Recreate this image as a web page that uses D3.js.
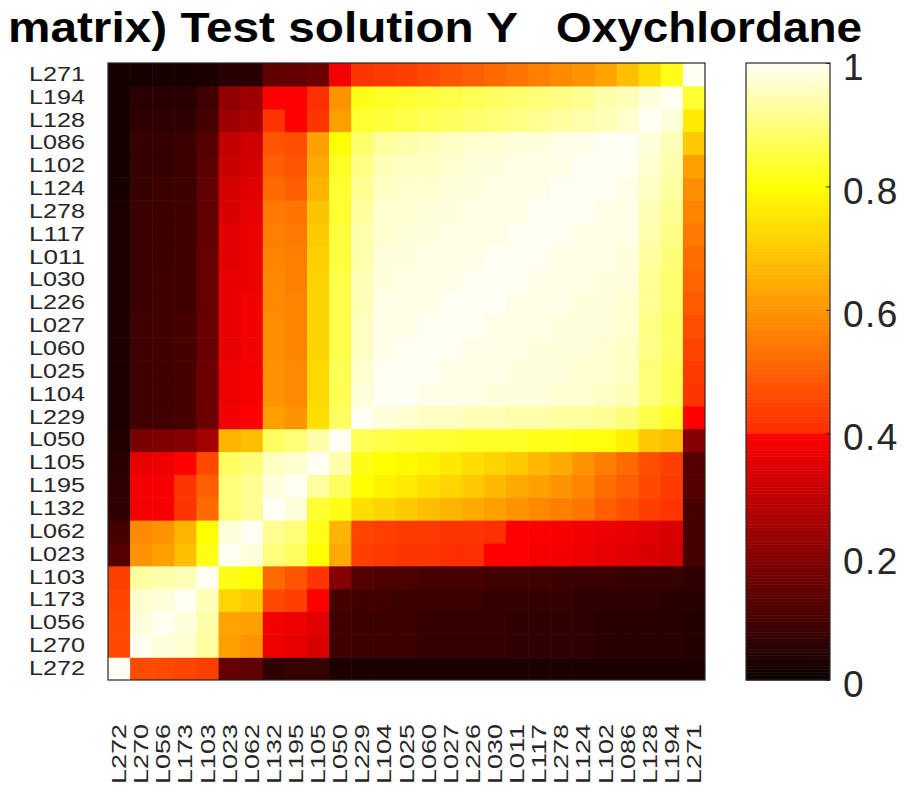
<!DOCTYPE html>
<html>
<head>
<meta charset="utf-8">
<script src="https://cdn.jsdelivr.net/npm/d3@7/dist/d3.min.js"></script>
<style>
  html, body { margin: 0; padding: 0; background: #ffffff; }
  svg { display: block; font-family: "Liberation Sans", Arial, Helvetica, sans-serif; }
</style>
</head>
<body>
<svg id="chart" width="913" height="802"></svg>
<script>
// ---------------- DATA ----------------
const titleLeft = "matrix) Test solution Y";
const titleRight = "Oxychlordane";

// category order along x (left -> right); y uses the same order bottom -> top
const categories = ["L272","L270","L056","L173","L103","L023","L062","L132","L195","L105","L050",
  "L229","L104","L025","L060","L027","L226","L030","L011","L117","L278","L124","L102","L086","L128","L194","L271"];

// values[r][c]: row r (category r, counted from bottom), column c (category c, from left)
const values = [
/* L272 */ [1.00,0.46,0.46,0.45,0.44,0.15,0.14,0.06,0.07,0.07,0.03,0.03,0.03,0.03,0.03,0.03,0.03,0.03,0.03,0.03,0.03,0.03,0.03,0.03,0.03,0.03,0.03],
/* L270 */ [0.46,1.00,0.98,0.97,0.93,0.62,0.60,0.37,0.36,0.34,0.09,0.08,0.08,0.08,0.07,0.07,0.07,0.07,0.06,0.06,0.06,0.06,0.05,0.05,0.05,0.05,0.04],
/* L056 */ [0.46,0.98,1.00,0.98,0.94,0.63,0.62,0.38,0.37,0.35,0.09,0.08,0.08,0.08,0.07,0.07,0.07,0.07,0.06,0.06,0.06,0.06,0.05,0.05,0.05,0.05,0.04],
/* L173 */ [0.45,0.97,0.98,1.00,0.95,0.72,0.70,0.46,0.44,0.40,0.10,0.09,0.09,0.08,0.08,0.08,0.08,0.07,0.07,0.07,0.07,0.06,0.06,0.06,0.06,0.05,0.05],
/* L103 */ [0.44,0.93,0.94,0.95,1.00,0.82,0.80,0.52,0.48,0.42,0.20,0.12,0.11,0.11,0.10,0.10,0.10,0.09,0.09,0.09,0.08,0.08,0.08,0.07,0.07,0.07,0.06],
/* L023 */ [0.12,0.60,0.62,0.68,0.82,1.00,0.98,0.90,0.88,0.80,0.64,0.44,0.43,0.42,0.42,0.41,0.41,0.40,0.40,0.39,0.38,0.37,0.36,0.35,0.34,0.33,0.10],
/* L062 */ [0.10,0.58,0.60,0.66,0.80,0.98,1.00,0.92,0.90,0.82,0.66,0.45,0.44,0.43,0.43,0.42,0.42,0.41,0.40,0.40,0.39,0.38,0.37,0.36,0.35,0.34,0.10],
/* L132 */ [0.06,0.38,0.39,0.42,0.52,0.90,0.92,1.00,0.98,0.84,0.82,0.74,0.72,0.70,0.68,0.66,0.64,0.62,0.60,0.58,0.56,0.54,0.50,0.47,0.44,0.42,0.10],
/* L195 */ [0.06,0.38,0.39,0.42,0.50,0.90,0.92,0.98,1.00,0.93,0.88,0.80,0.78,0.76,0.74,0.72,0.70,0.67,0.64,0.62,0.60,0.57,0.53,0.50,0.46,0.43,0.12],
/* L105 */ [0.05,0.36,0.37,0.40,0.46,0.88,0.90,0.96,0.97,1.00,0.94,0.82,0.80,0.79,0.78,0.76,0.74,0.72,0.70,0.67,0.64,0.60,0.56,0.52,0.47,0.44,0.12],
/* L050 */ [0.04,0.18,0.19,0.20,0.25,0.66,0.68,0.88,0.90,0.94,1.00,0.87,0.86,0.85,0.84,0.84,0.83,0.83,0.83,0.82,0.82,0.81,0.81,0.77,0.70,0.68,0.20],
/* L229 */ [0.03,0.09,0.09,0.10,0.16,0.38,0.40,0.62,0.60,0.74,0.88,1.00,0.98,0.97,0.96,0.96,0.95,0.95,0.94,0.94,0.93,0.93,0.92,0.90,0.86,0.83,0.40],
/* L104 */ [0.03,0.09,0.09,0.10,0.16,0.37,0.39,0.60,0.58,0.73,0.87,0.98,1.00,1.00,0.99,0.99,0.99,0.98,0.98,0.98,0.97,0.97,0.96,0.95,0.90,0.87,0.42],
/* L025 */ [0.03,0.09,0.09,0.10,0.16,0.37,0.39,0.60,0.58,0.73,0.87,0.97,1.00,1.00,1.00,0.99,0.99,0.99,0.98,0.98,0.98,0.97,0.97,0.96,0.90,0.87,0.43],
/* L060 */ [0.03,0.09,0.09,0.10,0.15,0.36,0.38,0.59,0.57,0.72,0.86,0.96,0.99,1.00,1.00,1.00,0.99,0.99,0.99,0.98,0.98,0.98,0.97,0.96,0.91,0.88,0.45],
/* L027 */ [0.03,0.09,0.09,0.10,0.15,0.36,0.38,0.59,0.57,0.72,0.86,0.96,0.99,0.99,1.00,1.00,1.00,0.99,0.99,0.99,0.98,0.98,0.98,0.97,0.91,0.88,0.47],
/* L226 */ [0.03,0.08,0.09,0.09,0.15,0.36,0.38,0.58,0.57,0.72,0.86,0.95,0.99,0.99,0.99,1.00,1.00,1.00,0.99,0.99,0.99,0.98,0.98,0.97,0.92,0.89,0.49],
/* L030 */ [0.03,0.08,0.09,0.09,0.15,0.36,0.37,0.58,0.56,0.72,0.86,0.95,0.98,0.99,0.99,0.99,1.00,1.00,1.00,0.99,0.99,0.99,0.98,0.98,0.92,0.89,0.51],
/* L011 */ [0.03,0.08,0.08,0.09,0.15,0.35,0.37,0.57,0.56,0.71,0.85,0.94,0.98,0.98,0.99,0.99,0.99,1.00,1.00,1.00,0.99,0.99,0.99,0.98,0.93,0.90,0.53],
/* L117 */ [0.03,0.08,0.08,0.09,0.14,0.35,0.37,0.56,0.55,0.70,0.85,0.94,0.97,0.98,0.98,0.99,0.99,0.99,1.00,1.00,1.00,0.99,0.99,0.99,0.94,0.91,0.55],
/* L278 */ [0.03,0.08,0.08,0.09,0.14,0.34,0.36,0.55,0.54,0.69,0.84,0.93,0.97,0.97,0.98,0.98,0.99,0.99,0.99,1.00,1.00,1.00,0.99,0.99,0.95,0.92,0.57],
/* L124 */ [0.02,0.07,0.08,0.08,0.14,0.33,0.35,0.52,0.50,0.66,0.84,0.92,0.96,0.97,0.97,0.98,0.98,0.99,0.99,0.99,1.00,1.00,1.00,0.99,0.96,0.93,0.59],
/* L102 */ [0.02,0.07,0.07,0.08,0.13,0.31,0.33,0.50,0.48,0.64,0.83,0.91,0.95,0.96,0.96,0.97,0.98,0.98,0.99,0.99,0.99,1.00,1.00,1.00,0.97,0.94,0.62],
/* L086 */ [0.02,0.07,0.07,0.08,0.12,0.30,0.32,0.48,0.47,0.62,0.80,0.89,0.93,0.94,0.95,0.96,0.97,0.97,0.98,0.98,0.99,0.99,1.00,1.00,0.98,0.95,0.70],
/* L128 */ [0.02,0.06,0.06,0.06,0.10,0.24,0.26,0.42,0.40,0.42,0.62,0.84,0.85,0.86,0.87,0.88,0.89,0.90,0.91,0.92,0.93,0.94,0.95,0.97,1.00,0.98,0.76],
/* L194 */ [0.02,0.05,0.05,0.05,0.09,0.22,0.24,0.40,0.40,0.41,0.60,0.82,0.83,0.84,0.85,0.86,0.87,0.88,0.89,0.90,0.91,0.92,0.94,0.95,0.98,1.00,0.84],
/* L271 */ [0.02,0.02,0.02,0.02,0.03,0.05,0.05,0.14,0.15,0.16,0.38,0.42,0.43,0.44,0.46,0.48,0.50,0.52,0.54,0.56,0.58,0.60,0.63,0.68,0.74,0.82,1.00]
];

const colorTicks = [0, 0.2, 0.4, 0.6, 0.8, 1];
const colorTickLabels = ["0", "0.2", "0.4", "0.6", "0.8", "1"];

// ---------------- DRAW ----------------
const svg = d3.select("#chart");
const plot = { left: 108, right: 705, top: 63, bottom: 680 };
const cbar = { left: 746, right: 830, top: 63, bottom: 680 };

const x = d3.scaleBand().domain(categories).range([plot.left, plot.right]);
const y = d3.scaleBand().domain(categories).range([plot.bottom, plot.top]);

// colour map: black -> red (0..0.4), orange-red -> yellow (0.4..0.8), yellow -> white (0.8..1)
const color = d3.scaleLinear()
  .domain([0, 0.4, 0.4001, 0.8, 1])
  .range(["#0a0000", "#ff0000", "#ff2a00", "#ffff00", "#fffff4"])
  .clamp(true);

const cells = [];
values.forEach((row, r) => row.forEach((v, c) => cells.push({ r: categories[r], c: categories[c], v })));

svg.append("defs").append("clipPath").attr("id", "plotclip")
  .append("rect").attr("x", plot.left).attr("y", plot.top)
  .attr("width", plot.right - plot.left).attr("height", plot.bottom - plot.top);

svg.append("g").attr("clip-path", "url(#plotclip)")
  .selectAll("rect").data(cells).join("rect")
  .attr("x", d => x(d.c))
  .attr("y", d => y(d.r))
  .attr("width", x.bandwidth() + 0.6)
  .attr("height", y.bandwidth() + 0.6)
  .attr("fill", d => color(d.v));

// axes box
svg.append("rect")
  .attr("x", plot.left).attr("y", plot.top)
  .attr("width", plot.right - plot.left).attr("height", plot.bottom - plot.top)
  .attr("fill", "none").attr("stroke", "#262626").attr("stroke-width", 1.2);

// y axis labels
const yAxis = d3.axisLeft(y).tickSize(0).tickPadding(23);
const gy = svg.append("g").attr("transform", `translate(${plot.left},0)`).call(yAxis);
gy.select(".domain").remove();
gy.selectAll("text")
  .attr("font-size", 20)
  .attr("fill", "#262626")
  .attr("font-family", "Liberation Sans, Arial, sans-serif")
  .attr("textLength", 56).attr("lengthAdjust", "spacingAndGlyphs");

// x axis labels (rotated)
const xAxis = d3.axisBottom(x).tickSize(0).tickPadding(0);
const gx = svg.append("g").attr("transform", `translate(0,${plot.bottom})`).call(xAxis);
gx.select(".domain").remove();
gx.selectAll("text")
  .attr("font-size", 20)
  .attr("fill", "#262626")
  .attr("font-family", "Liberation Sans, Arial, sans-serif")
  .attr("text-anchor", "end")
  .attr("dy", "0.35em")
  .attr("transform", "translate(0,44) rotate(-90)")
  .attr("x", 0).attr("y", 0)
  .attr("textLength", 60).attr("lengthAdjust", "spacingAndGlyphs");

// colour bar
const cy = d3.scaleLinear().domain([0, 1]).range([cbar.bottom, cbar.top]);
const steps = d3.range(0, 400).map(i => i / 400);
svg.append("g").selectAll("rect").data(steps).join("rect")
  .attr("x", cbar.left)
  .attr("y", d => cy(d + 1 / 400))
  .attr("width", cbar.right - cbar.left)
  .attr("height", cy(0) - cy(1 / 400) + 0.5)
  .attr("fill", d => color(d + 0.5 / 400));
svg.append("rect")
  .attr("x", cbar.left).attr("y", cbar.top)
  .attr("width", cbar.right - cbar.left).attr("height", cbar.bottom - cbar.top)
  .attr("fill", "none").attr("stroke", "#262626").attr("stroke-width", 1.2);

const cAxis = d3.axisRight(cy).tickValues(colorTicks)
  .tickFormat((d, i) => colorTickLabels[i]).tickSize(-4).tickPadding(13);
const gc = svg.append("g").attr("transform", `translate(${cbar.right},0)`).call(cAxis);
gc.select(".domain").remove();
gc.selectAll("line").attr("stroke", "#262626");
gc.selectAll("text")
  .attr("font-size", 37)
  .attr("fill", "#262626")
  .attr("dy", "0.45em")
  .attr("letter-spacing", 1.5)
  .attr("font-family", "Liberation Sans, Arial, sans-serif");

// title
svg.append("text").attr("x", 8).attr("y", 42)
  .attr("font-size", 42).attr("font-weight", "bold").attr("fill", "#000")
  .attr("textLength", 510).attr("lengthAdjust", "spacingAndGlyphs")
  .text(titleLeft);
svg.append("text").attr("x", 556).attr("y", 42)
  .attr("font-size", 42).attr("font-weight", "bold").attr("fill", "#000")
  .attr("textLength", 306).attr("lengthAdjust", "spacingAndGlyphs")
  .text(titleRight);
</script>
</body>
</html>
